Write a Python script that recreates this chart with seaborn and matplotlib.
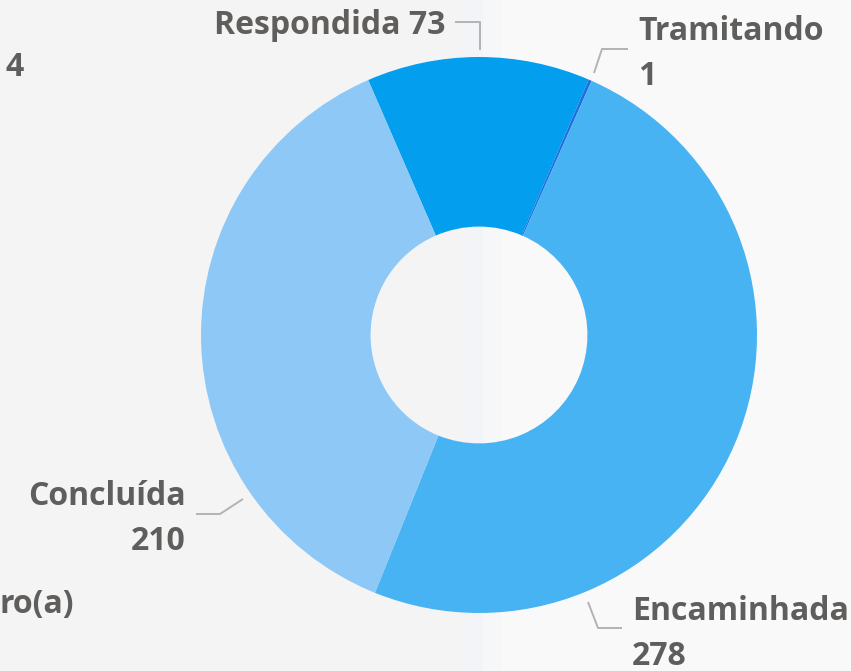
import numpy as np
import matplotlib.pyplot as plt
import seaborn as sns

# dados do gráfico
status = ["Respondida", "Tramitando", "Encaminhada", "Concluída"]
quantidade = [73, 1, 278, 210]
cores = ["#039fee", "#1e6fe0", "#47b3f3", "#8ec8f6"]

sns.set_theme(style="white")
plt.rcParams["font.family"] = ["Open Sans", "DejaVu Sans"]

W, H = 851, 671
fig = plt.figure(figsize=(W / 100, H / 100), dpi=100, facecolor="#f4f4f4")
ax = fig.add_axes([0, 0, 1, 1])
ax.set_facecolor("#f4f4f4")

# fundo em faixas
for x0, x1, c in [(465, 483, "#f3f4f7"), (483, 502, "#f5f7f9"), (502, W, "#f9f9fa")]:
    ax.axvspan(x0, x1, color=c, lw=0, zorder=0)


def P(x, y):
    # pixel -> coordenadas do eixo
    return x, H - y


cx, cy = P(479, 335)
raio = 278
wedges, _ = ax.pie(
    quantidade,
    colors=cores,
    startangle=113.5,
    counterclock=False,
    center=(cx, cy),
    radius=raio,
    wedgeprops=dict(width=raio * 0.61, linewidth=0, zorder=2),
    frame=True,
)
ax.set_xlim(0, W)
ax.set_ylim(0, H)
ax.set_aspect("equal")
for s in ax.spines.values():
    s.set_visible(False)
ax.set_xticks([])
ax.set_yticks([])

texto = dict(color="#605e5c", fontsize=23, fontweight="bold", zorder=3)
linha = dict(color="#b3b3b3", lw=1.4, solid_capstyle="butt", zorder=3)

# Respondida
ax.plot(*zip(P(480, 50), P(480, 22), P(455, 22)), **linha)
ax.text(*P(445, 26), f"{status[0]} {quantidade[0]}", ha="right", va="center", **texto)

# Tramitando
ax.plot(*zip(P(594, 73), P(602, 49), P(628, 49)), **linha)
ax.text(*P(638, 54), f"{status[1]}\n{quantidade[1]}", ha="left", va="center",
        linespacing=1.45, **texto)

# Encaminhada
ax.plot(*zip(P(588, 602), P(598, 628), P(622, 628)), **linha)
ax.text(*P(632, 634), f"{status[2]}\n{quantidade[2]}", ha="left", va="center",
        linespacing=1.45, **texto)

# Concluída
ax.plot(*zip(P(243, 499), P(220, 514), P(196, 514)), **linha)
ax.text(*P(186, 519), f"{status[3]}\n{quantidade[3]}", ha="right", va="center",
        linespacing=1.45, multialignment="right", **texto)

# textos cortados de outro visual
ax.text(*P(6, 67), "4", ha="left", va="center", **texto)
ax.text(*P(0, 605), "ro(a)", ha="left", va="center", **texto)

fig.savefig("out.png", dpi=100, facecolor=fig.get_facecolor())
